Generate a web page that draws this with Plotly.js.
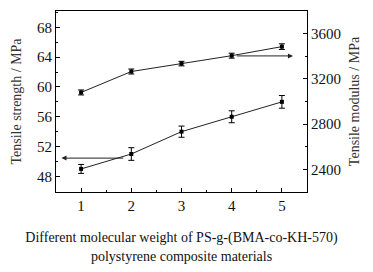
<!DOCTYPE html>
<html>
<head>
<meta charset="utf-8">
<script src="https://cdn.plot.ly/plotly-3.0.1.min.js"></script>
<style>html,body{margin:0;padding:0;background:#fff;}#chart{width:373px;height:272px;}</style>
</head>
<body>
<div id="chart"></div>
<script>
var samples = [1, 2, 3, 4, 5];
var strength = [49.0, 51.0, 54.0, 56.0, 58.0];
var strengthErr = [0.6, 0.85, 0.75, 0.8, 0.85];
var modulus = [3080, 3265, 3335, 3405, 3485];
var modulusErr = [22, 22, 20, 22, 25];

var lineColor = '#222';
var font = 'Liberation Serif, Times New Roman, serif';

var traces = [
  {
    x: samples, y: strength, type: 'scatter', mode: 'lines+markers',
    line: {color: lineColor, width: 1},
    marker: {symbol: 'square', size: 4, color: '#000'},
    error_y: {type: 'data', array: strengthErr, visible: true, color: '#000', thickness: 1, width: 3},
    yaxis: 'y', showlegend: false
  },
  {
    x: samples, y: modulus, type: 'scatter', mode: 'lines+markers',
    line: {color: lineColor, width: 1},
    marker: {symbol: 'square', size: 4, color: '#000'},
    error_y: {type: 'data', array: modulusErr, visible: true, color: '#000', thickness: 1, width: 3},
    yaxis: 'y2', showlegend: false
  }
];

var layout = {
  width: 373, height: 272,
  margin: {l: 56, r: 66, t: 11, b: 80},
  paper_bgcolor: '#fff', plot_bgcolor: '#fff',
  font: {family: font, color: '#111', size: 14},
  xaxis: {
    range: [0.5, 5.5], tickvals: samples, ticks: 'inside', ticklen: 4, tickcolor: '#000',
    minor: {ticks: 'inside', dtick: 0.5, tick0: 0.5, ticklen: 2, tickcolor: '#000'},
    showline: true, linecolor: '#000', linewidth: 1, mirror: true, showgrid: false, zeroline: false,
    tickfont: {size: 15, family: font},
    title: {text: 'Different molecular weight of PS-g-(BMA-co-KH-570)<br>polystyrene composite materials',
            font: {size: 14, family: font}, standoff: 19}
  },
  yaxis: {
    range: [45.9, 70.2], tickvals: [48, 52, 56, 60, 64, 68], ticks: 'inside', ticklen: 4, tickcolor: '#000',
    minor: {ticks: 'inside', dtick: 2, tick0: 46, ticklen: 2, tickcolor: '#000'},
    showline: true, linecolor: '#000', linewidth: 1, showgrid: false, zeroline: false,
    tickfont: {size: 15, family: font},
    title: {text: 'Tensile strength / MPa', font: {size: 14, family: font, color: '#333'}, standoff: 12}
  },
  yaxis2: {
    range: [2200, 3800], tickvals: [2400, 2800, 3200, 3600], overlaying: 'y', side: 'right',
    ticks: 'inside', ticklen: 4, tickcolor: '#000',
    minor: {ticks: 'inside', dtick: 200, tick0: 2200, ticklen: 2, tickcolor: '#000'},
    showline: true, linecolor: '#000', linewidth: 1, showgrid: false, zeroline: false,
    tickfont: {size: 15, family: font},
    title: {text: 'Tensile modulus / MPa', font: {size: 14, family: font, color: '#333'}, standoff: 9}
  },
  annotations: [
    {x: 0.61, y: 50.45, ax: 1.87, ay: 50.45, xref: 'x', yref: 'y', axref: 'x', ayref: 'y',
     text: '', showarrow: true, arrowhead: 2, arrowsize: 1, arrowwidth: 1, arrowcolor: '#222'},
    {x: 5.22, y: 3403, ax: 4.07, ay: 3403, xref: 'x', yref: 'y2', axref: 'x', ayref: 'y2',
     text: '', showarrow: true, arrowhead: 2, arrowsize: 1, arrowwidth: 1, arrowcolor: '#222'}
  ]
};

Plotly.newPlot('chart', traces, layout, {displayModeBar: false, staticPlot: true});
</script>
</body>
</html>
